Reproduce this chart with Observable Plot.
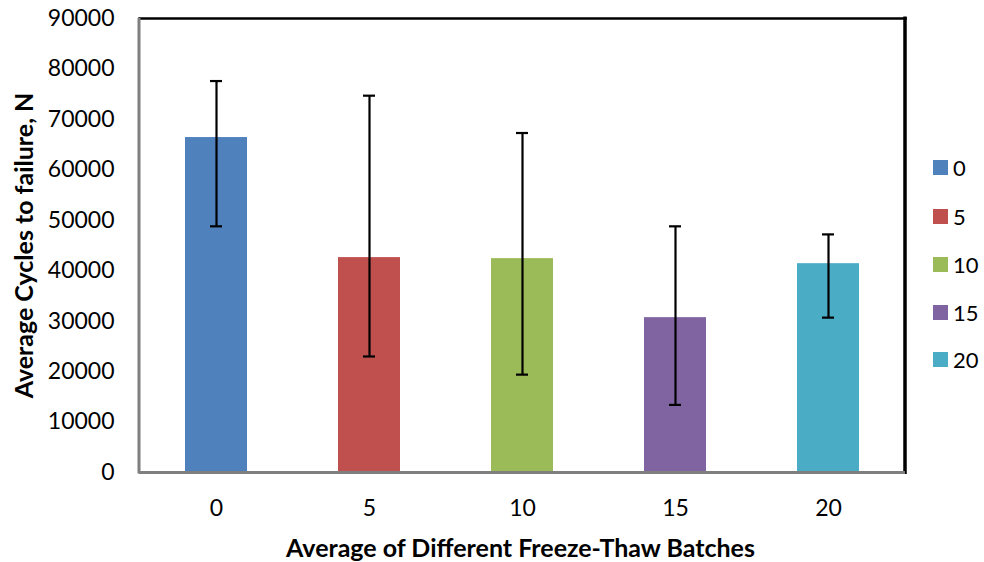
<!DOCTYPE html>
<html>
<head>
<meta charset="utf-8">
<script src="https://cdn.jsdelivr.net/npm/d3@7"></script>
<script src="https://cdn.jsdelivr.net/npm/@observablehq/plot@0.6"></script>
<style>
  html, body { margin: 0; padding: 0; background: #fff; }
  #wrap { position: relative; width: 984px; height: 562px; font-family: Lato, "Open Sans", sans-serif; }
  #legend { position: absolute; left: 933px; top: 0; }
  .item { position: absolute; display: flex; align-items: center; white-space: nowrap; }
  .sw { width: 15px; height: 15px; margin-right: 5px; }
  .lab { font-size: 22px; color: #000; }
</style>
</head>
<body>
<div id="wrap"></div>
<script>
// Data
const batches = ["0", "5", "10", "15", "20"];
const meanCycles = [66400, 42600, 42400, 30700, 41400];
const errLow = [48800, 23000, 19400, 13400, 30700];
const errHigh = [77600, 74700, 67300, 48800, 47200];
const colors = ["#4F81BD", "#C0504D", "#9BBB59", "#8064A2", "#4BACC6"];
const yTicks = [0, 10000, 20000, 30000, 40000, 50000, 60000, 70000, 80000, 90000];

const rows = batches.map((b, i) => ({ batch: b, value: meanCycles[i], lo: errLow[i], hi: errHigh[i] }));

const font = "Lato, 'Open Sans', sans-serif";

const leftAxisLine = (index, scales, values, dims) => {
  const g = d3.create("svg:g");
  const x = dims.marginLeft;
  g.append("line")
    .attr("x1", x).attr("x2", x)
    .attr("y1", dims.marginTop).attr("y2", dims.height - dims.marginBottom + 1.5)
    .attr("stroke", "#7f7f7f").attr("stroke-width", 3);
  return g.node();
};
const rightAxisLine = (index, scales, values, dims) => {
  const g = d3.create("svg:g");
  const x = dims.width - dims.marginRight;
  g.append("line")
    .attr("x1", x).attr("x2", x)
    .attr("y1", dims.marginTop - 1.5).attr("y2", dims.height - dims.marginBottom + 2)
    .attr("stroke", "#000").attr("stroke-width", 3.5);
  return g.node();
};

const chart = Plot.plot({
  width: 984,
  height: 562,
  marginLeft: 139,
  marginRight: 79,
  marginTop: 18,
  marginBottom: 90,
  style: { fontFamily: font, background: "#fff", color: "#000" },
  x: { domain: batches, paddingInner: 0.595, paddingOuter: 0.2975, label: null },
  y: { domain: [0, 90000], label: null },
  color: { domain: batches, range: colors },
  marks: [
    Plot.barY(rows, { x: "batch", y: "value", fill: "batch" }),
    Plot.ruleX(rows, { x: "batch", y1: "lo", y2: "hi", stroke: "#000", strokeWidth: 2.2 }),
    Plot.tickY(rows, { x: "batch", y: "lo", stroke: "#000", strokeWidth: 2.2, insetLeft: 25, insetRight: 25 }),
    Plot.tickY(rows, { x: "batch", y: "hi", stroke: "#000", strokeWidth: 2.2, insetLeft: 25, insetRight: 25 }),
    Plot.frame({ anchor: "top", stroke: "#000", strokeWidth: 2.5 }),
    rightAxisLine,
    Plot.ruleY([0], { stroke: "#7f7f7f", strokeWidth: 3 }),
    leftAxisLine,
    Plot.axisY({ ticks: yTicks, tickFormat: d => String(d), tickSize: 0, tickPadding: 25, fontSize: 23, label: null }),
    Plot.axisX({ tickSize: 0, tickPadding: 27, fontSize: 23, label: null }),
    Plot.text(["Average Cycles to failure, N"], { frameAnchor: "left", rotate: -90, dx: -115, textAnchor: "middle", lineAnchor: "middle", fontWeight: "bold", fontSize: 25 }),
    Plot.text(["Average of Different Freeze-Thaw Batches"], { frameAnchor: "bottom", dy: 76, dx: -2, textAnchor: "middle", lineAnchor: "middle", fontWeight: "bold", fontSize: 25 })
  ]
});

const wrap = document.getElementById("wrap");
wrap.appendChild(chart);

const legend = document.createElement("div");
legend.id = "legend";
const legendTops = [167, 216, 264, 312, 359];
batches.forEach((b, i) => {
  const it = document.createElement("div");
  it.className = "item";
  it.style.top = (legendTops[i] - 12) + "px";
  it.style.height = "24px";
  const sw = document.createElement("div");
  sw.className = "sw";
  sw.style.background = colors[i];
  const lab = document.createElement("span");
  lab.className = "lab";
  lab.textContent = b;
  it.appendChild(sw);
  it.appendChild(lab);
  legend.appendChild(it);
});
wrap.appendChild(legend);
</script>
</body>
</html>
